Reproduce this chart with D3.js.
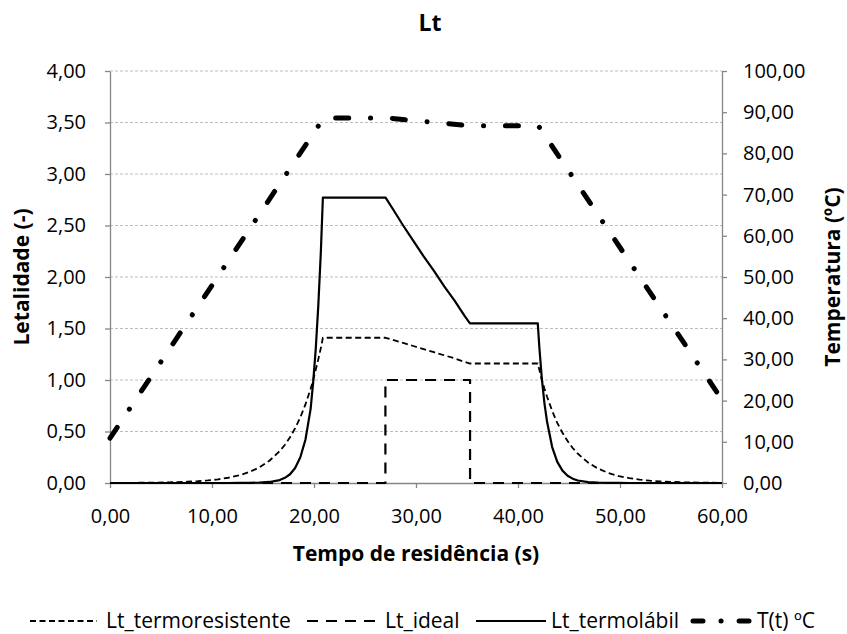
<!DOCTYPE html>
<html>
<head>
<meta charset="utf-8">
<script src="https://cdn.jsdelivr.net/npm/d3@7"></script>
<style>
  body { margin: 0; background: #fff; }
  svg { display: block; }
  text { font-family: "Open Sans", Lato, sans-serif; fill: #000; }
</style>
</head>
<body>
<svg id="chart" width="847" height="634"></svg>
<script>
// tempo (s) shared by the two curved lethality series
const tempo = [0, 0.52, 1.53, 2.53, 3.54, 4.55, 5.56, 6.56, 7.57, 8.58, 9.59, 10.6, 11.6, 12.61, 13.62, 14.63, 15.63, 16.64,
  17.15, 17.65, 18.15, 18.66, 19.16, 19.67, 19.92, 20.17, 20.42, 20.67, 20.87,
  21.68, 22.69, 23.69, 24.7, 25.71, 26.72, 27.02,
  27.73, 28.74, 29.74, 30.75, 31.76, 32.77, 33.78, 34.78, 35.29,
  35.79, 36.8, 37.8, 38.81, 39.82, 40.83, 41.84,
  41.94, 42.09, 42.34, 42.59, 42.85, 43.35, 43.85, 44.36, 44.86, 45.36, 45.87,
  46.88, 47.88, 48.89, 49.9, 50.91, 51.92, 52.92, 53.93, 54.94, 55.95, 56.95, 57.96, 58.97, 60];

const ltTermoresistente = [0.0007, 0.001, 0.0014, 0.002, 0.0028, 0.0041, 0.0058, 0.0084, 0.012, 0.0172, 0.0247, 0.0355, 0.051, 0.073, 0.105, 0.15, 0.216, 0.31,
  0.371, 0.444, 0.532, 0.637, 0.763, 0.914, 1.0, 1.1, 1.2, 1.31, 1.41,
  1.41, 1.41, 1.41, 1.41, 1.41, 1.41, 1.41,
  1.39, 1.36, 1.33, 1.3, 1.27, 1.24, 1.21, 1.175, 1.16,
  1.16, 1.16, 1.16, 1.16, 1.16, 1.16, 1.16,
  1.16, 1.1, 1.0, 0.917, 0.838, 0.7, 0.584, 0.488, 0.407, 0.34, 0.284,
  0.198, 0.138, 0.096, 0.067, 0.047, 0.0325, 0.0227, 0.0158, 0.011, 0.0077, 0.0053, 0.0037, 0.0026, 0.0018];

const ltTermolabil = [0, 0, 0, 0, 0, 0, 0, 0, 0, 0, 0, 0, 0.0001, 0.0004, 0.0013, 0.004, 0.01, 0.028,
  0.05, 0.085, 0.145, 0.25, 0.42, 0.72, 0.98, 1.3, 1.72, 2.24, 2.77,
  2.77, 2.77, 2.77, 2.77, 2.77, 2.77, 2.77,
  2.66, 2.5, 2.35, 2.2, 2.06, 1.91, 1.77, 1.62, 1.55,
  1.55, 1.55, 1.55, 1.55, 1.55, 1.55, 1.55,
  1.55, 1.32, 1.01, 0.776, 0.594, 0.349, 0.205, 0.12, 0.071, 0.042, 0.024,
  0.0084, 0.0029, 0.001, 0.0003, 0, 0, 0, 0, 0, 0, 0, 0, 0, 0];

const tempoIdeal = [0, 27.0, 27.0, 35.3, 35.3, 60];
const ltIdeal = [0, 0, 1, 1, 0, 0];

const tempoT = [0, 20.95, 27.2, 35.3, 42.0, 60];
const temperatura = [10.9, 88.6, 88.6, 86.7, 86.7, 20.2];

const xTicks = [0, 10, 20, 30, 40, 50, 60];
const yTicksLeft = [0, 0.5, 1, 1.5, 2, 2.5, 3, 3.5, 4];
const yTicksRight = [0, 10, 20, 30, 40, 50, 60, 70, 80, 90, 100];

const svg = d3.select("#chart");
const margin = { left: 110, right: 125, top: 71, bottom: 151 };
const width = 847 - margin.left - margin.right;
const height = 634 - margin.top - margin.bottom;

const fmt = (d) => d.toFixed(2).replace(".", ",");

const x = d3.scaleLinear().domain([0, 60]).range([0, width]);
const yL = d3.scaleLinear().domain([0, 4]).range([height, 0]);
const yR = d3.scaleLinear().domain([0, 100]).range([height, 0]);

const g = svg.append("g").attr("transform", `translate(${margin.left},${margin.top})`);

// gridlines
g.selectAll("line.grid")
  .data(yTicksLeft.filter((d) => d > 0))
  .enter()
  .append("line")
  .attr("class", "grid")
  .attr("x1", 0)
  .attr("x2", width)
  .attr("y1", (d) => yL(d))
  .attr("y2", (d) => yL(d))
  .attr("stroke", "#bdbdbd")
  .attr("stroke-width", 1)
  .attr("stroke-dasharray", "3,2");

// axes
const axisColor = "#868686";
function styleAxis(sel) {
  sel.select(".domain").attr("stroke", axisColor).attr("stroke-width", 1.3);
  sel.selectAll(".tick line").attr("stroke", axisColor).attr("stroke-width", 1.3);
  sel.selectAll(".tick text").attr("font-size", 20).attr("fill", "#000").attr("font-family", "'Open Sans', sans-serif");
}

g.append("g")
  .attr("transform", `translate(0,${height})`)
  .call(d3.axisBottom(x).tickValues(xTicks).tickFormat(fmt).tickSize(5).tickSizeOuter(0).tickPadding(21))
  .call(styleAxis);

g.append("g")
  .call(d3.axisLeft(yL).tickValues(yTicksLeft).tickFormat(fmt).tickSize(5).tickSizeOuter(0).tickPadding(19))
  .call(styleAxis);

g.append("g")
  .attr("transform", `translate(${width},0)`)
  .call(d3.axisRight(yR).tickValues(yTicksRight).tickFormat(fmt).tickSize(5).tickSizeOuter(0).tickPadding(16))
  .call(styleAxis);

// series
const series = [
  { name: "Lt_termoresistente", xs: tempo, ys: ltTermoresistente, scale: yL, width: 1.8, dash: "6,3.5", cap: "butt" },
  { name: "Lt_ideal", xs: tempoIdeal, ys: ltIdeal, scale: yL, width: 2.2, dash: "11,8", cap: "butt" },
  { name: "Lt_termolábil", xs: tempo, ys: ltTermolabil, scale: yL, width: 2.2, dash: null, cap: "butt" },
  { name: "T(t) ºC", xs: tempoT, ys: temperatura, scale: yR, width: 5, dash: "13,21.8,0.1,21.8", cap: "round" }
];

series.forEach((s) => {
  const line = d3.line()
    .x((d, i) => x(s.xs[i]))
    .y((d) => s.scale(d));
  g.append("path")
    .datum(s.ys)
    .attr("d", line)
    .attr("fill", "none")
    .attr("stroke", "#000")
    .attr("stroke-width", s.width)
    .attr("stroke-dasharray", s.dash)
    .attr("stroke-linecap", s.cap)
    .attr("stroke-linejoin", "round");
});

// titles
svg.append("text")
  .attr("x", 430).attr("y", 31)
  .attr("text-anchor", "middle")
  .attr("font-size", 23).attr("font-weight", "bold")
  .text("Lt");

svg.append("text")
  .attr("x", margin.left + width / 2).attr("y", 561)
  .attr("text-anchor", "middle")
  .attr("font-size", 21).attr("font-weight", "bold")
  .text("Tempo de residência (s)");

svg.append("text")
  .attr("transform", `translate(29,${margin.top + height / 2}) rotate(-90)`)
  .attr("text-anchor", "middle")
  .attr("font-size", 21).attr("font-weight", "bold")
  .text("Letalidade (-)");

svg.append("text")
  .attr("transform", `translate(840,${margin.top + height / 2}) rotate(-90)`)
  .attr("text-anchor", "middle")
  .attr("font-size", 21).attr("font-weight", "bold")
  .text("Temperatura (ºC)");

// legend
const legendItems = [
  { s: series[0], x1: 30, x2: 97, tx: 106 },
  { s: series[1], x1: 307, x2: 375, tx: 385 },
  { s: series[2], x1: 476, x2: 546, tx: 551 },
  { s: series[3], x1: 693, x2: 749, tx: 757, dash: "10,18,0.1,18" }
];
const legendY = 621;
legendItems.forEach((it) => {
  svg.append("line")
    .attr("x1", it.x1).attr("x2", it.x2)
    .attr("y1", legendY).attr("y2", legendY)
    .attr("stroke", "#000")
    .attr("stroke-width", it.s.width)
    .attr("stroke-dasharray", it.dash || it.s.dash)
    .attr("stroke-linecap", it.s.cap);
  svg.append("text")
    .attr("x", it.tx).attr("y", legendY + 7)
    .attr("font-size", 21)
    .text(it.s.name);
});
</script>
</body>
</html>
